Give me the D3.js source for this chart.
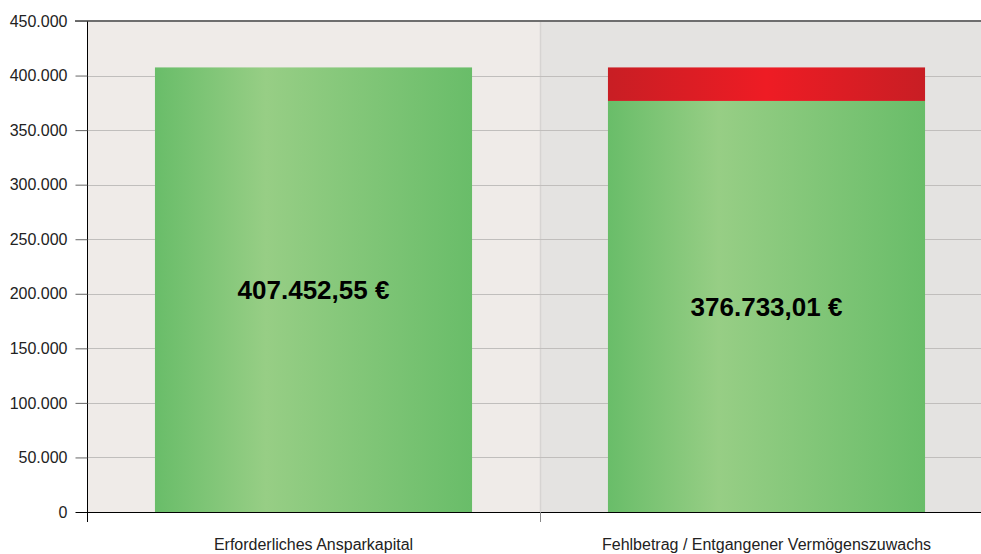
<!DOCTYPE html>
<html>
<head>
<meta charset="utf-8">
<script src="https://cdn.jsdelivr.net/npm/d3@7"></script>
<style>
  html, body { margin: 0; padding: 0; background: #fff; overflow: hidden; }
  svg { display: block; font-family: "Liberation Sans", Arial, sans-serif; }
</style>
</head>
<body>
<div id="chart"></div>
<script>
const categories = ['Erforderliches Ansparkapital', 'Fehlbetrag / Entgangener Vermögenszuwachs'];
const greenValues = [407452.55, 376733.01];
const redValues = [0, 30719.54];
const valueLabels = ['407.452,55 €', '376.733,01 €'];
const yTicks = [0, 50000, 100000, 150000, 200000, 250000, 300000, 350000, 400000, 450000];
const bandColors = ['#efebe8', '#e4e3e1'];

const width = 981, height = 554;
const margin = { top: 21, right: -12, bottom: 42, left: 87 };

const fmt = d => d3.format(',')(d).replace(/,/g, '.');

const x = d3.scaleBand()
  .domain(categories)
  .range([margin.left, width - margin.right])
  .paddingInner(0)
  .paddingOuter(0);

const y = d3.scaleLinear()
  .domain([0, 450000])
  .range([height - margin.bottom, margin.top]);

const barW = x.bandwidth() * 0.7;

const svg = d3.select('#chart').append('svg')
  .attr('width', width)
  .attr('height', height);

const defs = svg.append('defs');
const grad = (id, edge, mid, pos) => {
  const g = defs.append('linearGradient').attr('id', id)
    .attr('x1', '0%').attr('x2', '100%').attr('y1', '0%').attr('y2', '0%');
  g.append('stop').attr('offset', '0%').attr('stop-color', edge);
  g.append('stop').attr('offset', pos).attr('stop-color', mid);
  g.append('stop').attr('offset', '100%').attr('stop-color', edge);
};
grad('gGreen', '#69bd69', '#97ce85', '35%');
grad('gRed', '#c81e24', '#ee1c24', '50%');

// hintergrund je kategorie
svg.append('g').selectAll('rect')
  .data(categories)
  .join('rect')
  .attr('x', d => x(d))
  .attr('y', y(450000))
  .attr('width', x.bandwidth())
  .attr('height', y(0) - y(450000))
  .attr('fill', (d, i) => bandColors[i]);

// trennlinie
svg.append('line')
  .attr('x1', x(categories[1]) + 0.5).attr('x2', x(categories[1]) + 0.5)
  .attr('y1', y(450000)).attr('y2', y(0))
  .attr('stroke', '#d6d4d2').attr('stroke-width', 1.5);

// gitterlinien
svg.append('g').selectAll('line')
  .data(yTicks.filter(d => d > 0 && d < 450000))
  .join('line')
  .attr('x1', margin.left).attr('x2', width)
  .attr('y1', d => Math.round(y(d)) + 0.5).attr('y2', d => Math.round(y(d)) + 0.5)
  .attr('stroke', '#c0bebc');

// balken
svg.append('g').selectAll('rect')
  .data(categories)
  .join('rect')
  .attr('x', d => x(d) + (x.bandwidth() - barW) / 2)
  .attr('y', (d, i) => y(greenValues[i]))
  .attr('width', barW)
  .attr('height', (d, i) => y(0) - y(greenValues[i]))
  .attr('fill', 'url(#gGreen)');

svg.append('g').selectAll('rect')
  .data(categories.filter((d, i) => redValues[i] > 0))
  .join('rect')
  .attr('x', d => x(d) + (x.bandwidth() - barW) / 2)
  .attr('y', d => { const i = categories.indexOf(d); return y(greenValues[i] + redValues[i]); })
  .attr('width', barW)
  .attr('height', d => { const i = categories.indexOf(d); return y(greenValues[i]) - y(greenValues[i] + redValues[i]); })
  .attr('fill', 'url(#gRed)');

// werte
svg.append('g').selectAll('text')
  .data(categories)
  .join('text')
  .attr('x', d => x(d) + x.bandwidth() / 2)
  .attr('y', (d, i) => (y(greenValues[i]) + y(0)) / 2)
  .attr('dy', '0.36em')
  .attr('text-anchor', 'middle')
  .attr('font-size', 26)
  .attr('font-weight', 'bold')
  .attr('fill', '#000')
  .text((d, i) => valueLabels[i]);

// oberer rahmen
svg.append('line')
  .attr('x1', margin.left - 12).attr('x2', width)
  .attr('y1', y(450000)).attr('y2', y(450000))
  .attr('stroke', '#6e6e6e').attr('stroke-width', 2);

// y achse
const yAxis = svg.append('g')
  .attr('transform', `translate(${margin.left + 0.5},0)`)
  .call(d3.axisLeft(y).tickValues(yTicks).tickFormat(fmt).tickSize(12).tickPadding(8))
  .call(g => g.select('.domain').attr('stroke', '#000').attr('d', `M0,${y(450000)}V${y(0) + 10}`));
yAxis.selectAll('.tick line').attr('stroke', d => d === 0 ? '#000' : '#666');
yAxis.selectAll('.tick text').attr('font-size', 16).attr('fill', '#222')
  .attr('font-family', '"Liberation Sans", Arial, sans-serif');

// x achse
svg.append('line')
  .attr('x1', margin.left).attr('x2', width)
  .attr('y1', y(0) + 0.5).attr('y2', y(0) + 0.5)
  .attr('stroke', '#000');

svg.append('line')
  .attr('x1', x(categories[1]) + 0.5).attr('x2', x(categories[1]) + 0.5)
  .attr('y1', y(0)).attr('y2', y(0) + 10)
  .attr('stroke', '#888');

svg.append('g').selectAll('text')
  .data(categories)
  .join('text')
  .attr('x', d => x(d) + x.bandwidth() / 2)
  .attr('y', height - 4)
  .attr('text-anchor', 'middle')
  .attr('font-size', 16)
  .attr('fill', '#222')
  .text(d => d);
</script>
</body>
</html>
